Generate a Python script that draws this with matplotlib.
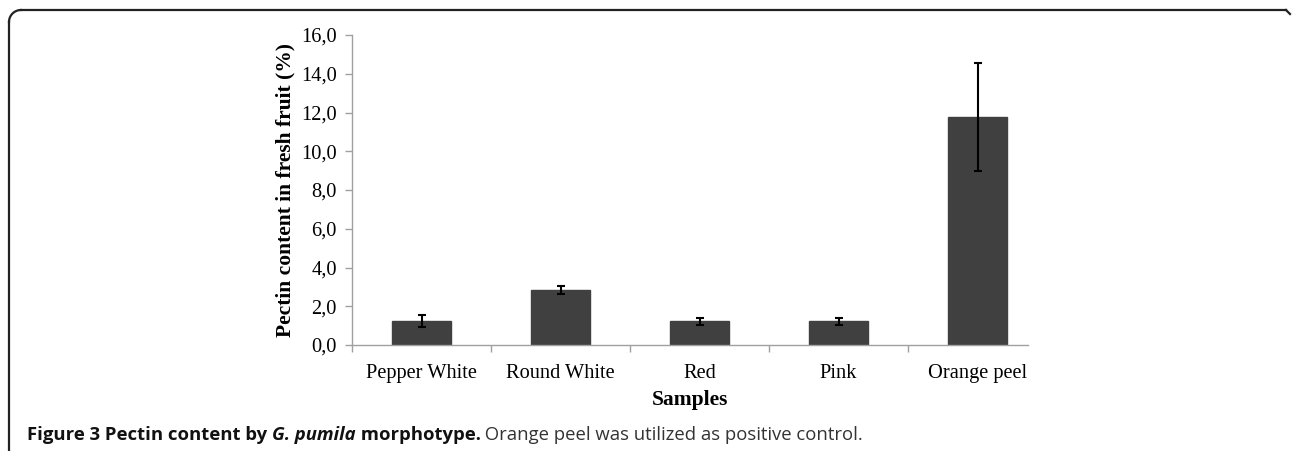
import numpy as np
import matplotlib.pyplot as plt
from matplotlib.lines import Line2D

samples = ["Pepper White", "Round White", "Red", "Pink", "Orange peel"]
pectin = [1.25, 2.82, 1.22, 1.22, 11.75]
err = [0.32, 0.2, 0.17, 0.17, 2.78]
yticks = [0, 2, 4, 6, 8, 10, 12, 14, 16]

fig = plt.figure(figsize=(12.92, 4.51), dpi=100)
W, H = 1292, 451
ax = fig.add_axes([352/W, 1-345/H, (1028-352)/W, (345-35)/H])

x = np.arange(len(samples))
ax.bar(x, pectin, width=0.425, color='#404040', edgecolor='#404040', zorder=2)
ax.errorbar(x, pectin, yerr=err, fmt='none', ecolor='black', elinewidth=1.5,
            capsize=3, capthick=1.5, zorder=3)

# the category axis stops a bit short of the last slot
ax.set_xlim(-0.5, -0.5 + (1028-352)/139)
ax.set_ylim(0, 16)
ax.set_yticks(yticks)
ax.set_yticklabels([("%.1f" % v).replace('.', ',') for v in yticks],
                   family='Liberation Serif', fontsize=14.7)
ax.set_xticks(x)
ax.set_xticklabels(samples, family='Liberation Serif', fontsize=14.7)
ax.tick_params(axis='x', length=0, pad=14)
ax.set_xticks(np.arange(len(samples))-0.5, minor=True)
ax.tick_params(axis='x', which='minor', length=5, color='#a0a0a0', width=1)
ax.tick_params(axis='y', length=5, color='#a0a0a0', width=1, pad=6)
for s in ['top', 'right']:
    ax.spines[s].set_visible(False)
for s in ['left', 'bottom']:
    ax.spines[s].set_color('#a0a0a0')
    ax.spines[s].set_linewidth(1)
ax.set_xlabel("Samples", family='Liberation Serif', fontsize=15.5, fontweight='bold', labelpad=5)
ax.set_ylabel("Pectin content in fresh fruit (%)", family='Liberation Serif', fontsize=15.5,
              fontweight='bold', labelpad=4)

# frame
r = 12
fig.add_artist(Line2D([9/W, 9/W], [1-(10+r)/H, 0], color='#222222', lw=1.6))
fig.add_artist(Line2D([(9+r)/W, 1286/W], [1-10/H, 1-10/H], color='#222222', lw=1.6))
t = np.linspace(0, np.pi/2, 20)
fig.add_artist(Line2D((9+r-r*np.cos(t))/W, 1-(10+r-r*np.sin(t))/H, color='#222222', lw=1.6))
fig.add_artist(Line2D([1286/W, 1290/W], [1-10/H, 1-14/H], color='#222222', lw=1.6))

# caption
fig.canvas.draw()
rend = fig.canvas.get_renderer()
parts = [("Figure 3 Pectin content by ", 'bold', 'normal', '#111111'),
         ("G. pumila", 'bold', 'italic', '#111111'),
         (" morphotype.", 'bold', 'normal', '#111111'),
         (" Orange peel was utilized as positive control.", 'normal', 'normal', '#333333')]
xp = 27
for txt, wt, st, col in parts:
    tt = fig.text(xp/W, 1-440/H, txt, family='Open Sans', fontsize=13.3, fontweight=wt,
                  fontstyle=st, color=col, va='baseline', ha='left')
    bb = tt.get_window_extent(rend)
    xp += bb.width

fig.savefig('out.png', dpi=100)
